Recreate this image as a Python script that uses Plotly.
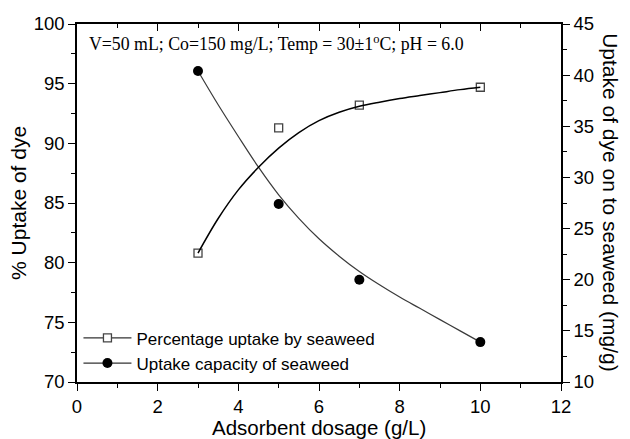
import plotly.graph_objects as go

# Measured data points
dosage = [3, 5, 7, 10]
pct_uptake = [80.8, 91.3, 93.2, 94.7]
capacity = [40.4, 27.4, 20.0, 13.9]

# Fitted curves
fit_x = [3, 3.5, 4, 4.5, 5, 5.5, 6, 6.5, 7, 7.5, 8, 8.5, 9, 9.5, 10]
pct_fit = [80.8, 83.7, 86.1, 88.0, 89.6, 90.9, 91.9, 92.6, 93.1, 93.45, 93.75, 94.0, 94.25, 94.5, 94.7]
cap_fit = [40.4, 37.1, 34.0, 31.0, 28.3, 26.0, 24.0, 22.3, 20.8, 19.5, 18.3, 17.2, 16.1, 15.0, 13.9]

x_ticks = [0, 2, 4, 6, 8, 10, 12]
names = ["Percentage uptake by seaweed", "Uptake capacity of seaweed"]

SANS = "Liberation Sans, Arial, sans-serif"
SERIF = "Liberation Serif, Times New Roman, serif"

fig = go.Figure()
fig.add_trace(go.Scatter(x=fit_x, y=pct_fit, mode="lines", line=dict(color="black", width=1.5, shape="spline"),
                         xaxis="x2", yaxis="y", showlegend=False, hoverinfo="skip"))
fig.add_trace(go.Scatter(x=fit_x, y=cap_fit, mode="lines", line=dict(color="#3a3a3a", width=1.2, shape="spline"),
                         xaxis="x", yaxis="y2", showlegend=False, hoverinfo="skip"))
fig.add_trace(go.Scatter(x=dosage, y=pct_uptake, mode="markers",
                         marker=dict(symbol="square-open", size=8, color="#444444", line=dict(width=1.3)),
                         xaxis="x", yaxis="y", showlegend=False))
fig.add_trace(go.Scatter(x=dosage, y=capacity, mode="markers",
                         marker=dict(symbol="circle", size=10, color="black"),
                         xaxis="x", yaxis="y2", showlegend=False))
# legend entries
fig.add_trace(go.Scatter(x=[None], y=[None], mode="lines+markers", name=names[0],
                         line=dict(color="#333333", width=1.2),
                         marker=dict(symbol="square", size=8, color="white", line=dict(color="#444444", width=1.3))))
fig.add_trace(go.Scatter(x=[None], y=[None], mode="lines+markers", name=names[1],
                         line=dict(color="#333333", width=1.2),
                         marker=dict(symbol="circle", size=10, color="black")))

axis_common = dict(showgrid=False, zeroline=False, showline=True, linecolor="black", linewidth=1.5,
                   tickcolor="black", tickwidth=1.3, ticklen=7,
                   tickfont=dict(family=SANS, size=18.5, color="black"))

fig.update_layout(
    width=630, height=439,
    margin=dict(l=77, r=69, t=24, b=57),
    paper_bgcolor="white", plot_bgcolor="white",
    font=dict(family=SANS, color="black"),
    xaxis=dict(range=[0, 12], tickvals=x_ticks, ticks="outside",
               minor=dict(dtick=1, ticks="outside", ticklen=4, tickcolor="black", tickwidth=1.2),
               **axis_common),
    xaxis2=dict(range=[0, 12], tickvals=x_ticks, ticks="inside", overlaying="x", side="top",
                showticklabels=False,
                minor=dict(dtick=1, ticks="inside", ticklen=4, tickcolor="black", tickwidth=1.2),
                **axis_common),
    yaxis=dict(range=[70, 100], dtick=5, ticks="outside",
               minor=dict(dtick=2.5, ticks="outside", ticklen=4, tickcolor="black", tickwidth=1.2),
               **axis_common),
    yaxis2=dict(range=[10, 45], dtick=5, ticks="outside", overlaying="y", side="right",
                minor=dict(dtick=2.5, ticks="outside", ticklen=4, tickcolor="black", tickwidth=1.2),
                **axis_common),
    legend=dict(x=0.003, y=0.172, xanchor="left", yanchor="top", bgcolor="rgba(0,0,0,0)",
                itemwidth=48,
                font=dict(family=SANS, size=17, color="black"), tracegroupgap=0),
    annotations=[
        dict(text="V=50 mL; Co=150 mg/L; Temp = 30±1<sup>o</sup>C; pH = 6.0", xref="paper", yref="paper",
             x=0.02, y=0.947, xanchor="left", yanchor="middle", showarrow=False,
             font=dict(family=SERIF, size=17.8, color="black")),
        dict(text="% Uptake of dye", xref="paper", yref="paper", x=-0.122, y=0.5, textangle=-90,
             xanchor="center", yanchor="middle", showarrow=False, font=dict(family=SANS, size=21)),
        dict(text="Uptake of dye on to seaweed (mg/g)", xref="paper", yref="paper", x=1.103, y=0.5,
             textangle=90, xanchor="center", yanchor="middle", showarrow=False, font=dict(family=SANS, size=21)),
        dict(text="Adsorbent dosage (g/L)", xref="paper", yref="paper", x=0.5, y=-0.128,
             xanchor="center", yanchor="middle", showarrow=False, font=dict(family=SANS, size=20.5)),
    ],
)

fig.write_html("out.html")
